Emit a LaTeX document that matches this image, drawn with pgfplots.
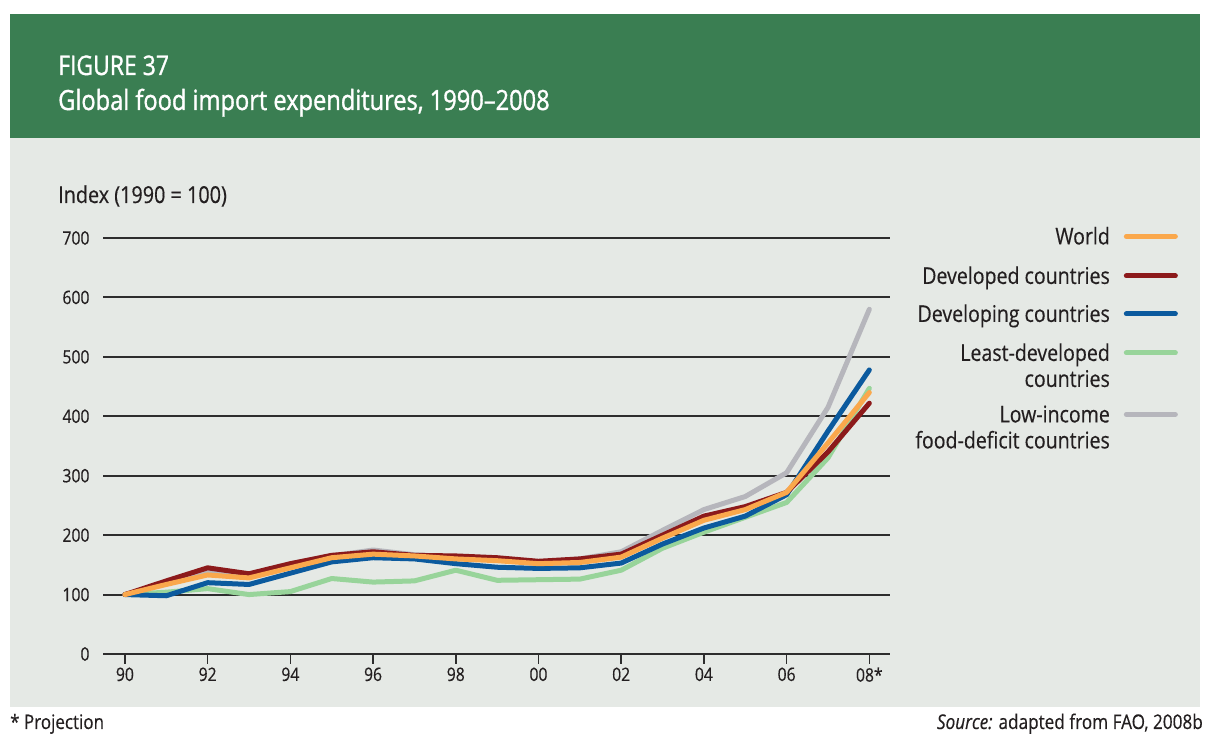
\documentclass[border=0pt]{standalone}
\usepackage{pgfplots}
\pgfplotsset{compat=1.18}
\usepackage{fontspec}
\setmainfont{Open Sans}[FakeStretch=0.85, FakeBold=0.4]
\newfontfamily\hdrfont{Open Sans}[Ligatures=TeX, FakeStretch=0.85, FakeBold=1.2]
\definecolor{panel}{RGB}{229,233,229}
\definecolor{hdr}{RGB}{58,126,82}
\definecolor{cWorld}{RGB}{250,168,76}
\definecolor{cDevd}{RGB}{140,26,27}
\definecolor{cDevg}{RGB}{11,90,158}
\definecolor{cLeast}{RGB}{152,212,154}
\definecolor{cLow}{RGB}{182,182,188}
\definecolor{txt}{RGB}{35,31,32}
\definecolor{gridc}{RGB}{45,45,45}
\pgfplotstableread{
year world devd devg least low
90 100 100 100 100 100
91 117 123 98 104 120
92 133 145 120 110 140
93 128 135 117 100 132
94 145 152 136 105 150
95 162 166 155 127 165
96 168 172 162 121 175
97 165 166 160 123 167
98 160 165 152 141 163
99 157 162 146 124 160
100 152 156 144 125 155
101 154 160 145 126 160
102 163 168 153 141 172
103 195 200 185 178 208
104 225 232 212 205 243
105 243 248 232 230 265
106 272 272 268 255 305
107 355 340 375 330 415
108 440 422 478 447 580
}\datatable
\begin{document}
\begin{tikzpicture}[x=1pt,y=1pt]
\fill[white] (0,0) rectangle (1207,733);
\fill[panel] (10,26) rectangle (1200,595);
\fill[hdr] (10,595) rectangle (1200,719);
\node[anchor=base west, text=white, inner sep=0pt, font=\hdrfont\fontsize{27}{32}\selectfont] at (58,658) {FIGURE 37};
\node[anchor=base west, text=white, inner sep=0pt, font=\hdrfont\fontsize{27.8}{32}\selectfont] at (58,623) {Global food import expenditures, 1990\textendash2008};
\node[anchor=base west, text=txt, inner sep=0pt, font=\fontsize{23.3}{26}\selectfont] at (58,530) {Index (1990 = 100)};
\node[anchor=base west, text=txt, inner sep=0pt, font=\fontsize{20}{22}\selectfont] at (10,4) {* Projection};
\node[anchor=base east, text=txt, inner sep=0pt, font=\fontsize{20.2}{22}\selectfont] at (1203,4) {\textit{Source:} adapted from FAO, 2008b};
\begin{axis}[
  at={(103pt,79pt)}, anchor=south west,
  scale only axis, width=787pt, height=416pt,
  xmin=89.47, xmax=108.5, ymin=0, ymax=700,
  axis line style={draw=none},
  xtick={90,92,...,108},
  xticklabels={90,92,94,96,98,00,02,04,06,08*},
  ytick={0,100,...,700},
  ymajorgrids,
  grid style={line width=2pt, color=gridc},
  ytick style={draw=none},
  xtick style={line width=1.5pt, color=gridc},
  major tick length=10pt,
  tick align=outside,
  tick pos=left,
  ticklabel style={font=\fontsize{18.5}{22}\selectfont, text=txt},
  /pgf/number format/assume math mode=true,
  every axis plot/.append style={line width=5pt, line join=round, line cap=round},
  legend cell align=right,
  legend plot pos=right,
  legend image code/.code={\draw[#1] (0pt,8pt) -- (49pt,8pt);},
  legend style={draw=none, fill=none, inner sep=0pt, at={(1.3660,1.0288)}, anchor=north east,
    font=\fontsize{23}{26}\selectfont, text=txt, row sep=13pt, column sep=14pt,
    nodes={inner sep=0pt}, cells={anchor=base east}},
]
\addplot[cLow, forget plot] table[x=year,y=low] {\datatable};
\addplot[cLeast, forget plot] table[x=year,y=least] {\datatable};
\addplot[cDevg, forget plot] table[x=year,y=devg] {\datatable};
\addplot[cDevd, forget plot] table[x=year,y=devd] {\datatable};
\addplot[cWorld, forget plot] table[x=year,y=world] {\datatable};
\addlegendimage{cWorld}
\addlegendentry{\begin{tabular}[t]{@{}r@{}}World\end{tabular}}
\addlegendimage{cDevd}
\addlegendentry{\begin{tabular}[t]{@{}r@{}}\rule{0pt}{25pt}Developed countries\end{tabular}}
\addlegendimage{cDevg}
\addlegendentry{\begin{tabular}[t]{@{}r@{}}\rule{0pt}{23.5pt}Developing countries\end{tabular}}
\addlegendimage{cLeast}
\addlegendentry{\begin{tabular}[t]{@{}r@{}}\rule{0pt}{24.5pt}Least-developed\\countries\end{tabular}}
\addlegendimage{cLow}
\addlegendentry{\begin{tabular}[t]{@{}r@{}}\rule{0pt}{47pt}Low-income\\food-deficit countries\end{tabular}}
\end{axis}
\end{tikzpicture}
\end{document}
